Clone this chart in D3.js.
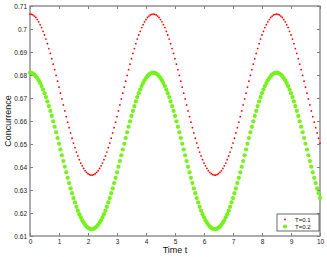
<!DOCTYPE html>
<html>
<head>
<meta charset="utf-8">
<script src="https://cdn.jsdelivr.net/npm/d3@7"></script>
<style>
body { margin: 0; background: #fff; }
text { font-family: "Liberation Sans", Arial, sans-serif; }
</style>
</head>
<body>
<script>
// time samples (step 0.05)
var time = [
  0,0.05,0.1,0.15,0.2,0.25,0.3,0.35,0.4,0.45,
  0.5,0.55,0.6,0.65,0.7,0.75,0.8,0.85,0.9,0.95,
  1,1.05,1.1,1.15,1.2,1.25,1.3,1.35,1.4,1.45,
  1.5,1.55,1.6,1.65,1.7,1.75,1.8,1.85,1.9,1.95,
  2,2.05,2.1,2.15,2.2,2.25,2.3,2.35,2.4,2.45,
  2.5,2.55,2.6,2.65,2.7,2.75,2.8,2.85,2.9,2.95,
  3,3.05,3.1,3.15,3.2,3.25,3.3,3.35,3.4,3.45,
  3.5,3.55,3.6,3.65,3.7,3.75,3.8,3.85,3.9,3.95,
  4,4.05,4.1,4.15,4.2,4.25,4.3,4.35,4.4,4.45,
  4.5,4.55,4.6,4.65,4.7,4.75,4.8,4.85,4.9,4.95,
  5,5.05,5.1,5.15,5.2,5.25,5.3,5.35,5.4,5.45,
  5.5,5.55,5.6,5.65,5.7,5.75,5.8,5.85,5.9,5.95,
  6,6.05,6.1,6.15,6.2,6.25,6.3,6.35,6.4,6.45,
  6.5,6.55,6.6,6.65,6.7,6.75,6.8,6.85,6.9,6.95,
  7,7.05,7.1,7.15,7.2,7.25,7.3,7.35,7.4,7.45,
  7.5,7.55,7.6,7.65,7.7,7.75,7.8,7.85,7.9,7.95,
  8,8.05,8.1,8.15,8.2,8.25,8.3,8.35,8.4,8.45,
  8.5,8.55,8.6,8.65,8.7,8.75,8.8,8.85,8.9,8.95,
  9,9.05,9.1,9.15,9.2,9.25,9.3,9.35,9.4,9.45,
  9.5,9.55,9.6,9.65,9.7,9.75,9.8,9.85,9.9,9.95,
  10
];

// concurrence, T=0.1
var concT01 = [
  0.7065,0.7064,0.7061,0.7056,0.7050,0.7041,0.7031,0.7019,0.7006,0.6990,
  0.6974,0.6956,0.6936,0.6915,0.6894,0.6871,0.6847,0.6823,0.6798,0.6773,
  0.6747,0.6721,0.6696,0.6670,0.6644,0.6619,0.6595,0.6571,0.6548,0.6525,
  0.6504,0.6484,0.6465,0.6448,0.6432,0.6417,0.6405,0.6394,0.6384,0.6377,
  0.6371,0.6367,0.6365,
  0.6365,0.6367,0.6371,0.6377,0.6384,0.6394,0.6405,0.6417,0.6432,0.6448,
  0.6465,0.6484,0.6504,0.6525,0.6548,0.6571,0.6595,0.6619,0.6644,0.6670,
  0.6696,0.6721,0.6747,0.6773,0.6798,0.6823,0.6847,0.6871,0.6894,0.6915,
  0.6936,0.6956,0.6974,0.6990,0.7006,0.7019,0.7031,0.7041,0.7050,0.7056,
  0.7061,0.7064,
  0.7065,
  0.7064,0.7061,0.7056,0.7050,0.7041,0.7031,0.7019,0.7006,0.6990,
  0.6974,0.6956,0.6936,0.6915,0.6894,0.6871,0.6847,0.6823,0.6798,0.6773,
  0.6747,0.6721,0.6696,0.6670,0.6644,0.6619,0.6595,0.6571,0.6548,0.6525,
  0.6504,0.6484,0.6465,0.6448,0.6432,0.6417,0.6405,0.6394,0.6384,0.6377,
  0.6371,0.6367,0.6365,
  0.6365,0.6367,0.6371,0.6377,0.6384,0.6394,0.6405,0.6417,0.6432,0.6448,
  0.6465,0.6484,0.6504,0.6525,0.6548,0.6571,0.6595,0.6619,0.6644,0.6670,
  0.6696,0.6721,0.6747,0.6773,0.6798,0.6823,0.6847,0.6871,0.6894,0.6915,
  0.6936,0.6956,0.6974,0.6990,0.7006,0.7019,0.7031,0.7041,0.7050,0.7056,
  0.7061,0.7064,
  0.7065,
  0.7064,0.7061,0.7056,0.7050,0.7041,0.7031,0.7019,0.7006,0.6990,
  0.6974,0.6956,0.6936,0.6915,0.6894,0.6871,0.6847,0.6823,0.6798,0.6773,
  0.6747,0.6721,0.6696,0.6670,0.6644,0.6619,0.6595,0.6571,0.6548,0.6525,
  0.6504
];

// concurrence, T=0.2
var concT02 = [
  0.6810,0.6809,0.6806,0.6802,0.6795,0.6787,0.6777,0.6765,0.6752,0.6737,
  0.6721,0.6704,0.6685,0.6665,0.6644,0.6622,0.6599,0.6575,0.6551,0.6526,
  0.6501,0.6476,0.6451,0.6426,0.6401,0.6377,0.6353,0.6330,0.6307,0.6286,
  0.6265,0.6246,0.6227,0.6210,0.6195,0.6181,0.6168,0.6158,0.6149,0.6141,
  0.6136,0.6132,0.6130,
  0.6130,0.6132,0.6136,0.6141,0.6149,0.6158,0.6168,0.6181,0.6195,0.6210,
  0.6227,0.6246,0.6265,0.6286,0.6307,0.6330,0.6353,0.6377,0.6401,0.6426,
  0.6451,0.6476,0.6501,0.6526,0.6551,0.6575,0.6599,0.6622,0.6644,0.6665,
  0.6685,0.6704,0.6721,0.6737,0.6752,0.6765,0.6777,0.6787,0.6795,0.6802,
  0.6806,0.6809,
  0.6810,
  0.6809,0.6806,0.6802,0.6795,0.6787,0.6777,0.6765,0.6752,0.6737,
  0.6721,0.6704,0.6685,0.6665,0.6644,0.6622,0.6599,0.6575,0.6551,0.6526,
  0.6501,0.6476,0.6451,0.6426,0.6401,0.6377,0.6353,0.6330,0.6307,0.6286,
  0.6265,0.6246,0.6227,0.6210,0.6195,0.6181,0.6168,0.6158,0.6149,0.6141,
  0.6136,0.6132,0.6130,
  0.6130,0.6132,0.6136,0.6141,0.6149,0.6158,0.6168,0.6181,0.6195,0.6210,
  0.6227,0.6246,0.6265,0.6286,0.6307,0.6330,0.6353,0.6377,0.6401,0.6426,
  0.6451,0.6476,0.6501,0.6526,0.6551,0.6575,0.6599,0.6622,0.6644,0.6665,
  0.6685,0.6704,0.6721,0.6737,0.6752,0.6765,0.6777,0.6787,0.6795,0.6802,
  0.6806,0.6809,
  0.6810,
  0.6809,0.6806,0.6802,0.6795,0.6787,0.6777,0.6765,0.6752,0.6737,
  0.6721,0.6704,0.6685,0.6665,0.6644,0.6622,0.6599,0.6575,0.6551,0.6526,
  0.6501,0.6476,0.6451,0.6426,0.6401,0.6377,0.6353,0.6330,0.6307,0.6286,
  0.6265
];

var xTicks = [0,1,2,3,4,5,6,7,8,9,10];
var yTicks = [0.61,0.62,0.63,0.64,0.65,0.66,0.67,0.68,0.69,0.7,0.71];
var seriesNames = ["T=0.1", "T=0.2"];

var width = 327, height = 257;
var plotLeft = 30, plotRight = 320, plotTop = 6, plotBottom = 236;

var svg = d3.select("body")
            .append("svg")
               .attr("width", width)
               .attr("height", height);

var x = d3.scaleLinear().domain([0, 10]).range([plotLeft, plotRight]);
var y = d3.scaleLinear().domain([0.61, 0.71]).range([plotBottom, plotTop]);

var fmt = function(d) { return String(+d.toFixed(2)); };
var axisGrey = "#808080";

function styleAxis(g) {
   g.select(".domain").remove();
   g.selectAll(".tick line").attr("stroke", axisGrey);
   g.selectAll(".tick text")
      .attr("fill", "#222")
      .style("font-size", "6.5px");
}

// bottom / top
svg.append("g")
   .attr("transform", "translate(0," + plotBottom + ")")
   .call(d3.axisBottom(x).tickValues(xTicks).tickSize(-3).tickPadding(3).tickFormat(fmt))
   .call(styleAxis);
svg.append("g")
   .attr("transform", "translate(0," + plotTop + ")")
   .call(d3.axisTop(x).tickValues(xTicks).tickSize(-3).tickFormat(""))
   .call(styleAxis);

// left / right
svg.append("g")
   .attr("transform", "translate(" + plotLeft + ",0)")
   .call(d3.axisLeft(y).tickValues(yTicks).tickSize(-3).tickPadding(3).tickFormat(fmt))
   .call(styleAxis);
svg.append("g")
   .attr("transform", "translate(" + plotRight + ",0)")
   .call(d3.axisRight(y).tickValues(yTicks).tickSize(-3).tickFormat(""))
   .call(styleAxis);

// box
svg.append("rect")
   .attr("x", plotLeft).attr("y", plotTop)
   .attr("width", plotRight - plotLeft).attr("height", plotBottom - plotTop)
   .attr("fill", "none")
   .attr("stroke", axisGrey)
   .attr("stroke-width", 1.3);

// series
svg.selectAll(".t01")
   .data(time)
   .enter().append("circle")
      .attr("class", "t01")
      .attr("cx", function(d) { return x(d); })
      .attr("cy", function(d, i) { return y(concT01[i]); })
      .attr("r", 0.9)
      .attr("fill", "#ff0000");

svg.selectAll(".t02")
   .data(time)
   .enter().append("circle")
      .attr("class", "t02")
      .attr("cx", function(d) { return x(d); })
      .attr("cy", function(d, i) { return y(concT02[i]); })
      .attr("r", 2.1)
      .attr("fill", "#74f21a");

// axis titles
svg.append("text")
   .attr("x", (plotLeft + plotRight) / 2).attr("y", 253)
   .attr("text-anchor", "middle")
   .style("font-size", "9px")
   .attr("fill", "#111")
   .text("Time t");

svg.append("text")
   .attr("transform", "translate(11," + ((plotTop + plotBottom) / 2) + ") rotate(-90)")
   .attr("text-anchor", "middle")
   .style("font-size", "9px")
   .attr("fill", "#111")
   .text("Concurrence");

// legend
var legend = svg.append("g");
legend.append("rect")
   .attr("x", 277).attr("y", 214)
   .attr("width", 42).attr("height", 17)
   .attr("fill", "#fff")
   .attr("stroke", "#444")
   .attr("stroke-width", 0.8);

legend.selectAll(".lg")
   .data(seriesNames)
   .enter().append("text")
      .attr("class", "lg")
      .attr("x", 295)
      .attr("y", function(d, i) { return 219.5 + i * 7; })
      .attr("dy", "0.35em")
      .style("font-size", "6px")
      .attr("fill", "#111")
      .text(function(d) { return d; });

legend.append("circle").attr("cx", 285).attr("cy", 219.5).attr("r", 0.9).attr("fill", "#ff0000");
legend.append("circle").attr("cx", 285).attr("cy", 226.5).attr("r", 2.1).attr("fill", "#74f21a");
</script>
</body>
</html>
